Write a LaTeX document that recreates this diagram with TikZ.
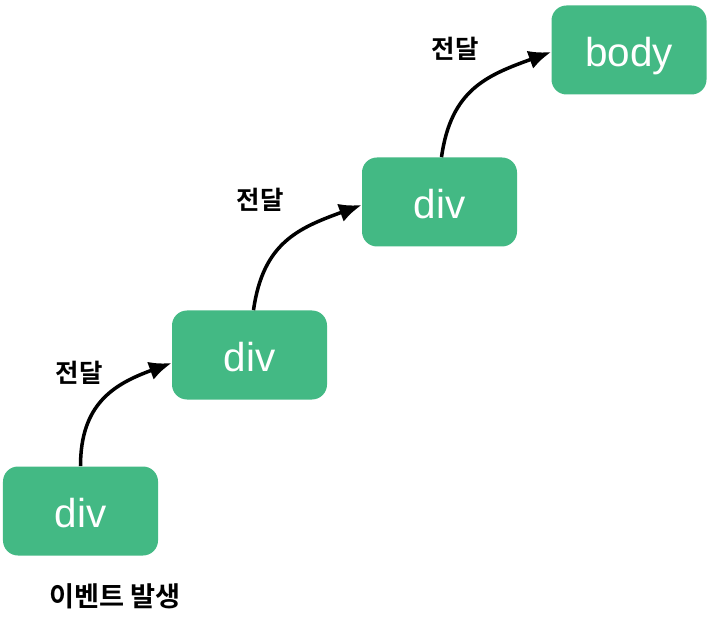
\documentclass[tikz,border=0pt]{standalone}
\usepackage{fontspec}
\setmainfont{Liberation Sans}
\newfontfamily\kor{Noto Sans CJK KR}[BoldFont=* Bold]
\usetikzlibrary{arrows.meta,positioning}
\definecolor{vert}{HTML}{43B984}
\tikzset{tag/.style={fill=vert,rounded corners=0.3cm,minimum width=3.1cm,minimum height=1.78cm,text=white,text height=0.68cm,text depth=0.02cm,font=\fontsize{23}{27}\selectfont},flux/.style={-{Latex[length=4.5mm,width=3.8mm]},line width=2pt},note/.style={font=\kor\bfseries\fontsize{14.5}{17}\selectfont,inner sep=1pt}}

\begin{document}
\begin{tikzpicture}
\useasboundingbox (0,0) rectangle (14.18,-12.54);
\node[tag] (div1) at (1.61,-10.22) {div};
\node[tag] (div2) at (4.99,-7.10) {div};
\node[tag] (div3) at (8.79,-4.04) {div};
\node[tag] (body) at (12.58,-1.0) {body};
\node[note] (n1) at (1.58,-7.46) {전달};
\node[note] (n2) at (5.20,-4.00) {전달};
\node[note] (n3) at (9.10,-0.98) {전달};
\node[note,font=\kor\bfseries\fontsize{15.5}{18}\selectfont] (start) at (2.30,-11.92) {이벤트 발생};
\draw[flux] (div1.north)to[out=90,in=200,looseness=1.15](div2.west|-{(0,-7.26)});
\draw[flux] ([xshift=0.08cm]div2.north)to[out=82,in=200,looseness=1.15](div3.west|-{(0,-4.10)});
\draw[flux] ([xshift=0.04cm]div3.north)to[out=82,in=200,looseness=1.15](body.west|-{(0,-1.04)});
\end{tikzpicture}
\end{document}
